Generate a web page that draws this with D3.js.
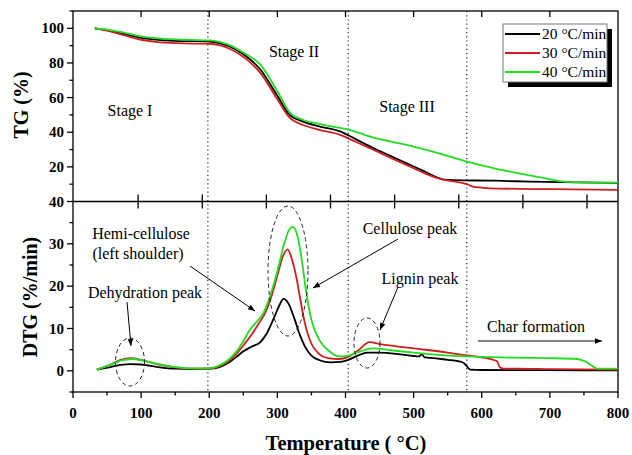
<!DOCTYPE html>
<html lang="en">
<head>
<meta charset="utf-8">
<title>TG / DTG</title>
<script src="https://cdn.jsdelivr.net/npm/d3@7"></script>
<style>
  body{margin:0;background:#fff;}
  svg text{font-family:"Liberation Serif","Times New Roman",serif;}
  .tick-lab{font-weight:bold;font-size:15px;}
  .ann{font-size:16px;}
</style>
</head>
<body>
<div id="chart"></div>
<script>
// ---- data ----
var series = ["20 °C/min", "30 °C/min", "40 °C/min"];
var colors = ["#000000", "#cc1f1f", "#22dd22"];

// TG curves: [temperature, mass %]
var tg20 = [[32,100],[50,99],[75,96.8],[100,94.5],[125,93.3],[150,92.8],[175,92.6],[200,92.4],[230,89.5],[250,85],[275,76.2],[300,61],[318,50],[337,46.3],[360,43.5],[392,40.5],[415,36],[440,31],[465,26.5],[490,22],[515,17.5],[535,13.8],[545,12.6],[560,12.3],[620,12],[670,11.5],[740,11],[800,10.7]];
var tg30 = [[32,100],[50,98.6],[75,96],[100,93.4],[125,92],[150,91.5],[175,91.2],[200,91.1],[230,88.2],[250,83.5],[275,74.3],[300,59],[318,48.4],[337,44.3],[360,41.5],[392,38.5],[415,34.5],[440,30],[465,25.5],[490,21],[515,16.5],[535,13.5],[545,12.5],[565,11.2],[578,10],[587,8.6],[600,8],[612,7.6],[700,7.1],[800,6.7]];
var tg40 = [[32,100],[50,99.2],[75,97.5],[100,95.3],[125,94.2],[150,93.6],[175,93.3],[200,93],[215,92.2],[230,90.3],[250,86],[275,79],[300,63.7],[318,51.5],[337,47.2],[360,45],[385,43],[402,41.8],[440,37],[490,32.7],[540,27.5],[578,23],[620,19],[666,15.4],[700,12.8],[725,11.3],[760,10.9],[800,10.9]];

// DTG curves: [temperature, %/min]
var dtg20 = [[35,0.3],[55,0.9],[70,1.4],[84,1.6],[100,1.5],[125,0.9],[150,0.5],[175,0.4],[200,0.5],[215,0.9],[225,1.6],[240,3.3],[250,4.6],[262,5.7],[275,6.8],[285,9],[295,12.5],[303,15.5],[309,17],[316,16],[324,12.8],[333,8.5],[342,5.3],[350,3.6],[362,2.5],[378,2],[392,2.1],[404,2.6],[418,3.6],[432,4.3],[450,4.3],[480,3.9],[500,3.5],[508,3.4],[512,3.9],[516,3.2],[530,3],[550,2.6],[565,2.3],[573,1.9],[578,1.1],[583,0.3],[600,0.2],[700,0.15],[800,0.1]];
var dtg30 = [[35,0.3],[55,1.5],[70,2.6],[85,3],[100,2.6],[125,1.5],[150,0.8],[175,0.5],[200,0.5],[215,1.1],[225,1.9],[240,4],[250,6],[262,8.5],[272,11],[283,14],[292,18],[300,22.5],[308,27],[315,28.7],[322,26],[328,22],[333,17.5],[340,11.5],[350,6.4],[360,4.2],[375,3],[390,2.8],[404,3.3],[420,5],[435,6.8],[450,6.3],[475,5.8],[500,5.3],[550,4.3],[575,3.7],[600,3.2],[615,2.7],[622,2.3],[627,0.8],[632,0.5],[650,0.5],[700,0.4],[800,0.3]];
var dtg40 = [[35,0.3],[55,1.4],[70,2.4],[88,2.8],[100,2.5],[125,1.6],[150,0.9],[175,0.6],[200,0.6],[215,1.3],[225,2.2],[240,4.6],[250,7],[260,9.8],[268,11.3],[280,13.8],[290,18],[300,23.5],[310,30],[318,33.5],[323,34],[330,31.5],[336,26],[342,19],[350,12],[362,7.2],[375,4.8],[390,3.4],[404,3.6],[420,4.5],[440,5.3],[470,4.8],[500,4.3],[550,3.6],[600,3.3],[650,3.1],[700,3],[740,2.8],[752,2.2],[762,1.2],[770,0.5],[800,0.5]];

var tgTicks = [20, 40, 60, 80, 100];
var dtgTicks = [0, 10, 20, 30, 40];
var xTicks = [0, 100, 200, 300, 400, 500, 600, 700, 800];
var stageLines = [198, 404, 578];

// ---- layout ----
var W = 632, H = 455;
var pL = 73, pR = 618, pT = 11, pM = 201.5, pB = 392;

var svg = d3.select("#chart").append("svg")
  .attr("width", W).attr("height", H);

var x = d3.scaleLinear().domain([0, 800]).range([pL, pR]);
var yTG = d3.scaleLinear().domain([0, 110]).range([pM, pT]);
var yDTG = d3.scaleLinear().domain([-5, 40]).range([pB, pM]);
// the TG panel's own (hidden) temperature axis, only its ticks show on the divider
var xTG = d3.scaleLinear().domain([0, 800]).range([74, 587]);

var frame = svg.append("g").attr("stroke", "#000").attr("stroke-width", 1.3).attr("fill", "none");
frame.append("rect").attr("x", pL).attr("y", pT).attr("width", pR - pL).attr("height", pB - pT);
frame.append("line").attr("x1", pL).attr("x2", pR).attr("y1", pM).attr("y2", pM);

// stage separators
svg.selectAll(".stage").data(stageLines).enter().append("line")
  .attr("x1", d => x(d)).attr("x2", d => x(d))
  .attr("y1", pT).attr("y2", pB)
  .attr("stroke", "#222").attr("stroke-width", 1.2).attr("stroke-dasharray", "1.2,3");

// ---- ticks ----
var tk = svg.append("g").attr("stroke", "#000").attr("stroke-width", 1.3);
d3.range(10, 111, 10).forEach(function(v){
  var major = v % 20 === 0 && v <= 100;
  tk.append("line").attr("x1", pL).attr("x2", pL - (major ? 6 : 3.5))
    .attr("y1", yTG(v)).attr("y2", yTG(v));
});
d3.range(-5, 41, 5).forEach(function(v){
  var major = v % 10 === 0;
  tk.append("line").attr("x1", pL).attr("x2", pL - (major ? 6 : 3.5))
    .attr("y1", yDTG(v)).attr("y2", yDTG(v));
});
d3.range(0, 801, 50).forEach(function(v){
  var major = v % 100 === 0;
  tk.append("line").attr("x1", x(v)).attr("x2", x(v))
    .attr("y1", pB).attr("y2", pB + (major ? 6 : 3.5));
});
d3.range(100, 701, 100).forEach(function(v){
  tk.append("line").attr("x1", x(v)).attr("x2", x(v)).attr("y1", pT).attr("y2", pT + 6);
});
d3.range(100, 801, 100).forEach(function(v){
  tk.append("line").attr("x1", xTG(v)).attr("x2", xTG(v)).attr("y1", pM - 7).attr("y2", pM + 7);
});

// tick labels
svg.selectAll(".tgl").data(tgTicks).enter().append("text")
  .attr("class", "tick-lab").attr("text-anchor", "end")
  .attr("x", pL - 9).attr("y", d => yTG(d) + 5).text(d => d);
svg.selectAll(".dtgl").data(dtgTicks).enter().append("text")
  .attr("class", "tick-lab").attr("text-anchor", "end")
  .attr("x", pL - 9).attr("y", d => yDTG(d) + 5).text(d => d);
svg.selectAll(".xl").data(xTicks).enter().append("text")
  .attr("class", "tick-lab").attr("text-anchor", "middle")
  .attr("x", d => x(d)).attr("y", 418).text(d => d);

// axis titles
svg.append("text").attr("transform", "translate(28,105) rotate(-90)")
  .attr("text-anchor", "middle").attr("font-weight", "bold").attr("font-size", 20).text("TG (%)");
svg.append("text").attr("transform", "translate(37,297) rotate(-90)")
  .attr("text-anchor", "middle").attr("font-weight", "bold").attr("font-size", 20).text("DTG (%/min)");
svg.append("text").attr("x", 346).attr("y", 450)
  .attr("text-anchor", "middle").attr("font-weight", "bold").attr("font-size", 20.5).text("Temperature ( °C)");

// ---- curves ----
var lineTG = d3.line().x(d => x(d[0])).y(d => yTG(d[1])).curve(d3.curveMonotoneX);
var lineDTG = d3.line().x(d => x(d[0])).y(d => yDTG(d[1])).curve(d3.curveMonotoneX);

[tg20, tg30, tg40].forEach(function(s, i){
  svg.append("path").datum(s).attr("d", lineTG)
    .attr("fill", "none").attr("stroke", colors[i]).attr("stroke-width", 1.8);
});
[dtg20, dtg30, dtg40].forEach(function(s, i){
  svg.append("path").datum(s).attr("d", lineDTG)
    .attr("fill", "none").attr("stroke", colors[i]).attr("stroke-width", 1.8);
});

// ---- legend ----
var lg = svg.append("g");
lg.append("rect").attr("x", 508).attr("y", 29).attr("width", 104).attr("height", 58).attr("fill", "#000");
lg.append("rect").attr("x", 503).attr("y", 24).attr("width", 104).attr("height", 58)
  .attr("fill", "#fff").attr("stroke", "#777").attr("stroke-width", 1);
series.forEach(function(s, i){
  var yy = 34 + i * 19;
  lg.append("line").attr("x1", 505).attr("x2", 540).attr("y1", yy).attr("y2", yy)
    .attr("stroke", colors[i]).attr("stroke-width", 1.8);
  lg.append("text").attr("x", 542).attr("y", yy + 5).attr("font-size", 15.5).text(s);
});

// ---- annotations ----
var notes = [
  ["Stage I", 130, 116], ["Stage II", 294, 57], ["Stage III", 407, 112],
  ["Hemi-cellulose", 141, 239], ["(left shoulder)", 138, 259],
  ["Dehydration peak", 145, 298], ["Cellulose peak", 410, 234],
  ["Lignin peak", 420, 284], ["Char formation", 536, 332]
];
svg.selectAll(".ann").data(notes).enter().append("text")
  .attr("class", "ann").attr("text-anchor", "middle")
  .attr("x", d => d[1]).attr("y", d => d[2]).text(d => d[0]);

svg.append("defs").append("marker").attr("id", "ah")
  .attr("viewBox", "0 0 10 10").attr("refX", 10).attr("refY", 5)
  .attr("markerWidth", 9).attr("markerHeight", 7).attr("orient", "auto")
  .attr("markerUnits", "userSpaceOnUse")
  .append("path").attr("d", "M0,1 L10,5 L0,9 z").attr("fill", "#000");

var arrows = [[127, 302, 131, 346], [190, 266, 255, 311], [398, 239, 313, 288], [398, 287, 380, 330], [478, 341, 602, 341]];
arrows.forEach(function(a){
  svg.append("line").attr("x1", a[0]).attr("y1", a[1]).attr("x2", a[2]).attr("y2", a[3])
    .attr("stroke", "#000").attr("stroke-width", 1).attr("marker-end", "url(#ah)");
});

var ellipses = [[130, 362, 14.5, 24], [288, 271, 20, 65], [367, 343, 13, 25]];
ellipses.forEach(function(e){
  svg.append("ellipse").attr("cx", e[0]).attr("cy", e[1]).attr("rx", e[2]).attr("ry", e[3])
    .attr("fill", "none").attr("stroke", "#222").attr("stroke-width", 1).attr("stroke-dasharray", "4,3");
});
</script>
</body>
</html>
